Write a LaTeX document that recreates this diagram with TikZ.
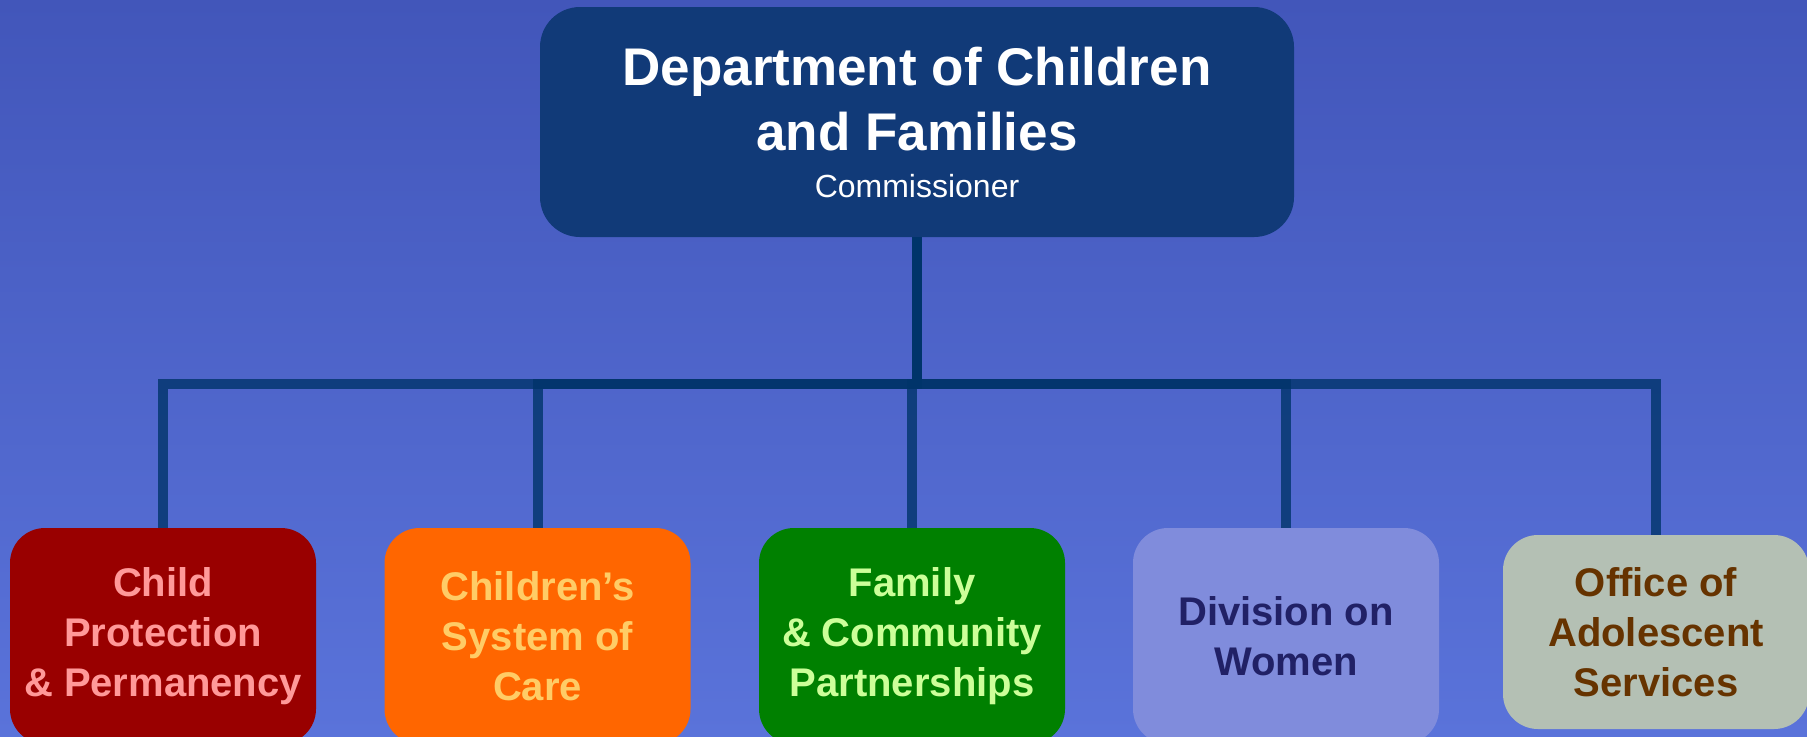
\documentclass[tikz,border=0pt]{standalone}
\usepackage{fontspec}
\setmainfont{Liberation Sans}
\definecolor{bgtop}{RGB}{66,86,186}
\definecolor{bgbot}{RGB}{90,115,218}
\definecolor{deptblue}{RGB}{17,58,120}
\definecolor{linkblue}{RGB}{0,52,106}
\begin{document}
\begin{tikzpicture}[x=0.5pt,y=-0.5pt,
	dept/.style={fill=deptblue,rounded corners=20pt,minimum width=377pt,minimum height=115pt,align=center,text=white,inner sep=0pt,font=\bfseries\fontsize{26.5}{32.5}\selectfont},
	unit/.style={rounded corners=17.5pt,minimum width=153pt,minimum height=108pt,align=center,inner sep=0pt,font=\bfseries\fontsize{20}{25}\selectfont},
	link/.style={draw=linkblue,line width=5pt,opacity=.8}]
	\useasboundingbox[top color=bgtop,bottom color=bgbot] (0,0) rectangle (1807,736);
	% head
	\node[dept] (dcf) at (917,122) {Department of Children\\and Families\\[-9pt]\mdseries\fontsize{16}{23.5}\selectfont Commissioner};
	% divisions
	\node[unit,fill={rgb,255:red,153;green,0;blue,0},text={rgb,255:red,255;green,153;blue,153}] (cpp) at (163,636) {Child\\Protection\\\& Permanency};
	\node[unit,fill={rgb,255:red,255;green,102;blue,0},text={rgb,255:red,255;green,204;blue,102}] (csoc) at (537.5,636) {Children’s\\System of\\Care};
	\node[unit,fill={rgb,255:red,0;green,128;blue,0},text={rgb,255:red,204;green,255;blue,153}] (fcp) at (912,636) {Family\\\& Community\\Partnerships};
	\node[unit,fill={rgb,255:red,128;green,140;blue,220},text={rgb,255:red,33;green,33;blue,102}] (dow) at (1286,636) {Division on\\Women};
	\node[unit,minimum height=97pt,fill={rgb,255:red,180;green,192;blue,180},text={rgb,255:red,102;green,51;blue,0}] (oas) at (1656,632) {Office of\\Adolescent\\Services};
	\coordinate (bar) at (917,384);
	\draw[link] (dcf.south) -- (bar) -| (cpp.north);
	\draw[link] (dcf.south) -- (bar) -| (csoc.north);
	\draw[link] (dcf.south) -- (bar) -| (fcp.north);
	\draw[link] (dcf.south) -- (bar) -| (dow.north);
	\draw[link] (dcf.south) -- (bar) -| (oas.north);
\end{tikzpicture}
\end{document}
